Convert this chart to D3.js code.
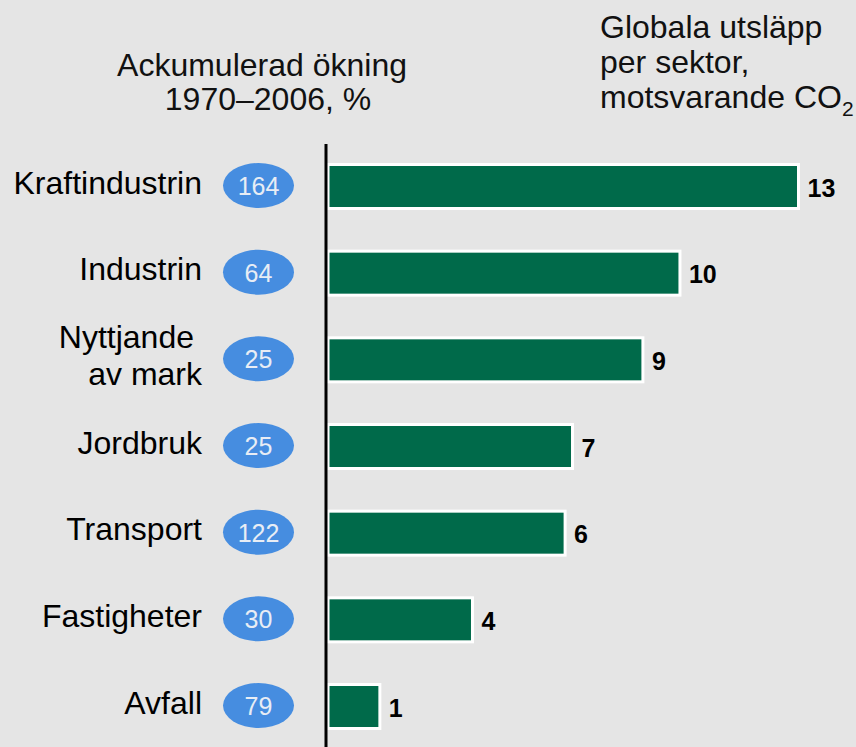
<!DOCTYPE html>
<html>
<head>
<meta charset="utf-8">
<script src="https://cdn.jsdelivr.net/npm/d3@7"></script>
<style>
  html, body { margin: 0; padding: 0; background: #e5e5e5; }
  svg { display: block; font-family: Arial, "Liberation Sans", sans-serif; }
</style>
</head>
<body>
<div id="chart"></div>
<script>
// sectors, top to bottom
const sectors = ["Kraftindustrin", "Industrin", "Nyttjande av mark", "Jordbruk", "Transport", "Fastigheter", "Avfall"];
// label lines (two-line label for land use)
const sectorLines = [["Kraftindustrin"], ["Industrin"], ["Nyttjande", "av mark"], ["Jordbruk"], ["Transport"], ["Fastigheter"], ["Avfall"]];
// global emissions per sector (bar length), CO2-eq
const emissions = [12.7, 9.5, 8.5, 6.6, 6.4, 3.9, 1.4];
// printed value labels
const emissionLabels = ["13", "10", "9", "7", "6", "4", "1"];
// cumulative increase 1970-2006, %
const increase = [164, 64, 25, 25, 122, 30, 79];

const width = 856, height = 747;

const svg = d3.select("#chart").append("svg")
    .attr("width", width)
    .attr("height", height);

svg.append("rect")
    .attr("width", width)
    .attr("height", height)
    .attr("fill", "#e5e5e5");

// scales
let xScale = d3.scaleLinear()
    .domain([0, d3.max(emissions)])
    .range([328, 798.5]);

let yScale = d3.scalePoint()
    .domain(sectors)
    .range([186.5, 706.5]);

const barH = 44;

let data = sectors.map((s, i) => ({
    sector: s,
    lines: sectorLines[i],
    value: emissions[i],
    label: emissionLabels[i],
    inc: increase[i]
}));

// headers
let leftHead = svg.append("text")
    .attr("text-anchor", "middle")
    .attr("font-size", 32)
    .attr("fill", "#111");
leftHead.append("tspan").attr("x", 262).attr("y", 76).text("Ackumulerad ökning");
leftHead.append("tspan").attr("x", 268).attr("y", 110).text("1970–2006, %");

let rightHead = svg.append("text")
    .attr("font-size", 32)
    .attr("fill", "#111");
rightHead.append("tspan").attr("x", 600).attr("y", 38).text("Globala utsläpp");
rightHead.append("tspan").attr("x", 600).attr("y", 73).text("per sektor,");
rightHead.append("tspan").attr("x", 600).attr("y", 108).text("motsvarande CO");
rightHead.append("tspan").attr("font-size", 21).attr("dy", 8).text("2");

// bars
svg.selectAll("rect.bar")
    .data(data)
    .enter().append("rect")
    .attr("class", "bar")
    .attr("x", xScale(0))
    .attr("y", d => yScale(d.sector) - barH / 2)
    .attr("width", d => xScale(d.value) - xScale(0))
    .attr("height", barH)
    .attr("fill", "#006a4a")
    .attr("stroke", "#ffffff")
    .attr("stroke-width", 3);

// value labels
svg.selectAll("text.val")
    .data(data)
    .enter().append("text")
    .attr("class", "val")
    .attr("x", d => xScale(d.value) + 9)
    .attr("y", d => yScale(d.sector) + 10)
    .attr("font-size", 25)
    .attr("font-weight", "bold")
    .attr("fill", "#000")
    .text(d => d.label);

// axis line
svg.append("line")
    .attr("x1", 326).attr("x2", 326)
    .attr("y1", 144).attr("y2", height)
    .attr("stroke", "#000")
    .attr("stroke-width", 3);

// ellipses with increase
svg.selectAll("ellipse.inc")
    .data(data)
    .enter().append("ellipse")
    .attr("class", "inc")
    .attr("cx", 258.5)
    .attr("cy", d => yScale(d.sector) - 1)
    .attr("rx", 35.5)
    .attr("ry", 22.5)
    .attr("fill", "#468de0");

svg.selectAll("text.inc")
    .data(data)
    .enter().append("text")
    .attr("class", "inc")
    .attr("x", 258.5)
    .attr("y", d => yScale(d.sector) + 8.5)
    .attr("text-anchor", "middle")
    .attr("font-size", 25)
    .attr("fill", "#e8edf5")
    .text(d => d.inc);

// sector labels
let labels = svg.selectAll("text.cat")
    .data(data)
    .enter().append("text")
    .attr("class", "cat")
    .attr("text-anchor", "end")
    .attr("font-size", 32)
    .attr("fill", "#000");

labels.each(function(d) {
    let t = d3.select(this);
    let cy = yScale(d.sector);
    if (d.lines.length === 1) {
        t.append("tspan").attr("x", 202).attr("y", cy + 7).text(d.lines[0]);
    } else {
        t.append("tspan").attr("x", 194).attr("y", cy - 12).text(d.lines[0]);
        t.append("tspan").attr("x", 202).attr("y", cy + 25).text(d.lines[1]);
    }
});
</script>
</body>
</html>
